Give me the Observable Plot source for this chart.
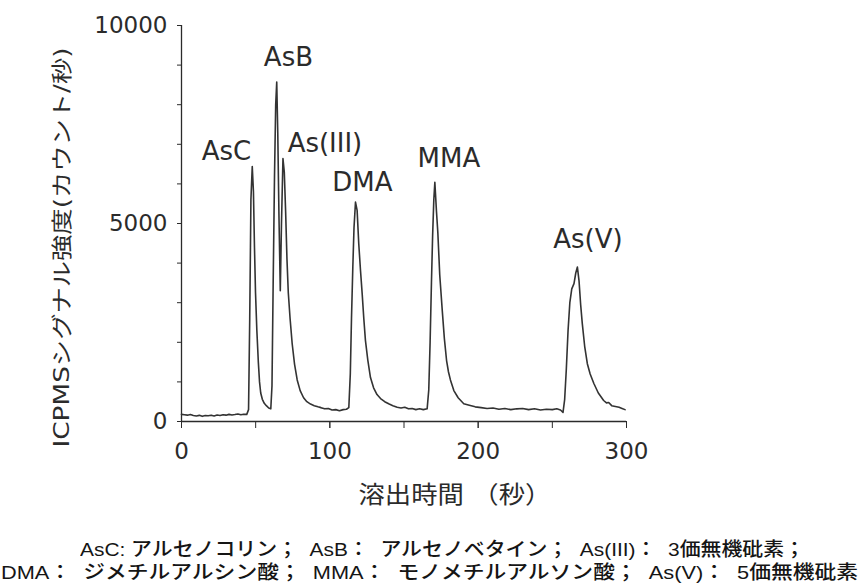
<!DOCTYPE html>
<html>
<head>
<meta charset="utf-8">
<script src="https://cdn.jsdelivr.net/npm/d3@7"></script>
<script src="https://cdn.jsdelivr.net/npm/@observablehq/plot@0.6"></script>
<style>
  body { margin: 0; background: #fff; position: relative; width: 859px; height: 587px; overflow: hidden; }
  #chart svg { display: block; }
  .capline {
    position: absolute; white-space: pre; transform-origin: left center;
    font-family: "Liberation Sans", "Noto Sans CJK JP", sans-serif;
    font-size: 19px; line-height: 23px; color: #151515; font-weight: 500;
  }
</style>
</head>
<body>
<div id="chart"></div>
<script>
// ---- data ----
const time = [
  0, 2, 4, 6, 8, 10, 12, 14, 16, 18, 20, 22, 24, 26, 28, 30, 32, 34, 36, 38, 40, 42, 44, 45.2,
  46.0, 46.8, 47.7, 48.5, 49.2, 49.9, 50.8, 51.8, 52.6, 53.4, 54.5, 55.8, 57.2, 58.8, 60.2,
  61.0, 61.8, 62.7, 63.5, 64.2, 64.9, 65.7, 66.6, 67.4, 68.4, 69.3, 70.2, 71.1, 72.0, 73.2, 74.6, 76.2, 78.0, 80.0, 82.3, 84.5, 87, 89.5, 92, 94, 96.5, 99, 101.5, 104, 106.5, 109, 111.2,
  112.8, 113.8, 114.6, 115.5, 116.3, 117.3, 118.4, 119.5, 120.7, 121.8, 122.9, 124.0, 125.6, 127.4, 129.5, 131.8, 134.2, 137, 140, 142.5, 145.4, 148, 150.5, 153, 155.5, 158, 160.5, 163, 165.6,
  166.7, 167.6, 168.5, 169.3, 170.1, 170.8, 171.9, 172.8, 174.1, 175.8, 177.2, 178.7, 180.0, 181.3, 183.6, 186.5, 190.3, 194, 198, 202, 206, 210, 214, 218, 222, 226, 230, 234, 238, 242, 246, 250, 253, 255.5, 257.2,
  258.3, 259.4, 260.6, 261.8, 263.1, 264.6, 265.8, 266.9, 268.0, 269.1, 270.2, 271.8, 273.6, 275.5, 278, 281, 284.6, 286.5, 288, 290, 292.5, 295, 297, 299
];
const intensity = [
  180, 170, 160, 175, 150, 140, 155, 130, 150, 145, 160, 140, 165, 150, 170, 160, 180, 165, 175, 190, 170, 185, 180, 300,
  2600, 5600, 6440, 5800, 4400, 3250, 2300, 1500, 1000, 720, 560, 460, 400, 340, 320,
  900, 3500, 6200, 8000, 8570, 7300, 5200, 3300, 5000, 6640, 6300, 5300, 4100, 3250, 2600, 1970, 1450, 1050, 780, 600, 500, 440, 400, 370, 350, 320, 330, 290, 300, 270, 300, 310,
  350, 1200, 2600, 3900, 4900, 5540, 5330, 4490, 3800, 3230, 2600, 2050, 1550, 1110, 850, 680, 580, 500, 440, 400, 360, 340, 360, 320, 330, 300, 320, 300, 320,
  800, 2000, 3500, 4700, 5600, 6040, 5300, 4780, 3700, 2800, 2100, 1540, 1250, 1050, 780, 600, 450, 410, 370, 350, 330, 340, 310, 330, 300, 320, 330, 300, 320, 290, 310, 300, 320, 290, 230,
  550, 1300, 2300, 3000, 3350, 3480, 3750, 3900, 3550, 2950, 2470, 1900, 1460, 1200, 960, 720, 530, 470, 480, 400, 380, 360, 330, 300
];

const peakNames = ["AsC", "AsB", "As(III)", "DMA", "MMA", "As(V)"];
const labelTime = [30.3, 72.1, 96.7, 122, 180.3, 274];
const labelIntensity = [6820, 9180, 7020, 6020, 6630, 4600];

const xTickLabels = [0, 100, 200, 300];
const xTickMarks = [0, 50, 100, 150, 200, 250, 300];
const yTickLabels = [0, 5000, 10000];
const yTickMarks = [0, 1000, 2000, 3000, 4000, 5000, 6000, 7000, 8000, 9000, 10000];

const xTitle = "溶出時間 （秒）";
const yTitle = "ICPMSシグナル強度(カウント/秒)";
const captionLines = [
  "AsC: アルセノコリン；  AsB：  アルセノベタイン；  As(III)：  3価無機砒素；",
  "DMA：  ジメチルアルシン酸；  MMA：  モノメチルアルソン酸；  As(V)：  5価無機砒素"
];

// ---- chart ----
const ink = "#2b2b2b";
const plot = Plot.plot({
  width: 859,
  height: 525,
  marginLeft: 181,
  marginRight: 233,
  marginTop: 25,
  marginBottom: 104,
  x: { domain: [0, 300] },
  y: { domain: [0, 10000] },
  style: {
    fontFamily: '"DejaVu Sans", "Noto Sans CJK JP", sans-serif',
    fontSize: "23px",
    color: ink,
    background: "#fff"
  },
  marks: [
    Plot.ruleX([0], { y1: 0, y2: 10000, stroke: ink, strokeWidth: 1.3 }),
    Plot.ruleY([0], { x1: 0, x2: 300, stroke: ink, strokeWidth: 1.3 }),
    Plot.axisY({ ticks: yTickMarks, tickSize: 4, tickFormat: () => "", label: null }),
    Plot.axisY({ ticks: yTickLabels, tickSize: 4, tickPadding: 10, tickFormat: d => String(d), label: null }),
    Plot.axisX({ ticks: xTickMarks, tickSize: 7, tickFormat: () => "", label: null }),
    Plot.axisX({ ticks: xTickLabels, tickSize: 7, tickPadding: 14, tickFormat: d => String(d), label: null }),
    Plot.line(time, { x: time, y: intensity, stroke: "#333", strokeWidth: 1.6 }),
    Plot.text(peakNames, { x: labelTime, y: labelIntensity, text: peakNames, fontSize: 26, fill: ink }),
    Plot.text([yTitle], { frameAnchor: "left", textAnchor: "start", dx: -119, dy: 224, rotate: -90, fontSize: 21, fill: ink }),
    Plot.text([xTitle], { frameAnchor: "bottom", textAnchor: "start", dx: -45.5, dy: 81, fontSize: 24, fill: ink })
  ]
});
document.getElementById("chart").appendChild(plot);

// stretch axis titles to the reference lengths
d3.select(plot).selectAll("text").filter(function () { return this.textContent === yTitle; })
  .attr("textLength", 400).attr("lengthAdjust", "spacingAndGlyphs");
d3.select(plot).selectAll("text").filter(function () { return this.textContent === xTitle; })
  .attr("textLength", 193).attr("lengthAdjust", "spacingAndGlyphs");

// ---- caption below the chart ----
const capLayout = [
  { left: 80, width: 725, top: 537.5 },
  { left: 1, width: 857, top: 560.5 }
];
captionLines.forEach((txt, i) => {
  const s = document.createElement("span");
  s.className = "capline";
  s.textContent = txt;
  s.style.left = capLayout[i].left + "px";
  s.style.top = capLayout[i].top + "px";
  document.body.appendChild(s);
  const w = s.getBoundingClientRect().width;
  s.style.transform = `scaleX(${capLayout[i].width / w})`;
});
</script>
</body>
</html>
